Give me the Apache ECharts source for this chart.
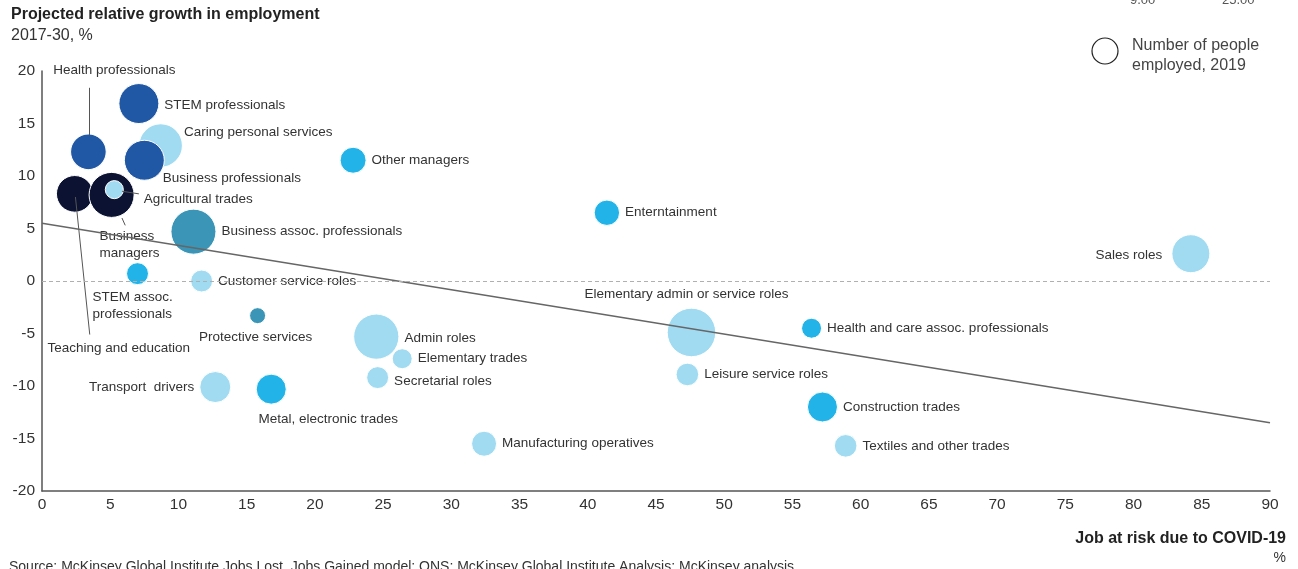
<!DOCTYPE html>
<html>
<head>
<meta charset="utf-8">
<script src="https://cdn.jsdelivr.net/npm/echarts@6/dist/echarts.min.js"></script>
<style>
  html, body { margin: 0; padding: 0; background: #fff; }
  #chart { width: 1298px; height: 569px; }
</style>
</head>
<body>
<div id="chart"></div>
<script>
// occupations, in draw order (bigger / underlying bubbles first)
const roles = [
  'Health professionals', 'STEM professionals', 'Caring personal services', 'Business professionals',
  'Other managers', 'Teaching and education', 'Business managers', 'Agricultural trades',
  'Business assoc. professionals', 'STEM assoc. professionals', 'Customer service roles',
  'Protective services', 'Admin roles', 'Elementary trades', 'Secretarial roles',
  'Transport  drivers', 'Metal, electronic trades', 'Elementary admin or service roles',
  'Health and care assoc. professionals', 'Leisure service roles', 'Construction trades',
  'Manufacturing operatives', 'Textiles and other trades', 'Enterntainment', 'Sales roles'
]
// job at risk due to COVID-19, %
const atRisk = [3.4, 7.1, 8.7, 7.5, 22.8, 2.4, 5.1, 5.3, 11.1, 7.0, 11.7, 15.8, 24.5, 26.4, 24.6,
  12.7, 16.8, 47.6, 56.4, 47.3, 57.2, 32.4, 58.9, 41.4, 84.2]
// projected relative growth in employment 2017-30, %
const growth = [12.3, 16.9, 12.9, 11.5, 11.5, 8.3, 8.2, 8.7, 4.7, 0.7, 0.0, -3.3, -5.3, -7.4, -9.2,
  -10.1, -10.3, -4.9, -4.5, -8.9, -12.0, -15.5, -15.7, 6.5, 2.6]
// number of people employed, 2019 (millions)
const employed = [1.24, 1.56, 1.84, 1.56, 0.66, 1.31, 1.98, 0.32, 1.98, 0.47, 0.47, 0.25, 2.0, 0.39, 0.47,
  0.94, 0.88, 2.3, 0.39, 0.5, 0.88, 0.61, 0.5, 0.63, 1.41]
// colour group: 0 navy, 1 dark blue, 2 teal, 3 bright blue, 4 light blue
const group = [1, 1, 4, 1, 3, 0, 0, 4, 2, 3, 4, 2, 4, 4, 4, 4, 3, 4, 3, 4, 3, 4, 4, 3, 4]

const trend = [[0, 5.5], [90, -13.5]]
// leader lines from labels to bubbles
const leaders = [
  [[3.44, 18.4], [3.44, 13.9]],
  [[2.45, 8.0], [3.5, -5.1]],
  [[5.86, 6.0], [6.1, 5.3]],
  [[5.86, 8.55], [7.1, 8.3]]
]

const xTicks = { min: 0, max: 90, interval: 5 }
const yTicks = { min: -20, max: 20, interval: 5 }

const palette = ['#0c1232', '#2058a5', '#3b95b7', '#22b3e8', '#a1dbf2']
const FONT = 'Liberation Sans, Arial, sans-serif'
const TXT = '#333'

const labelCfg = {
  'Health professionals': { position: 'top', offset: [26, -50] },
  'STEM professionals': { position: 'right', offset: [0, 2] },
  'Caring personal services': { position: 'right', offset: [-4, -13] },
  'Business professionals': { position: 'right', offset: [-7, 18] },
  'Teaching and education': { position: 'bottom', offset: [44, 122] },
  'Business managers': { position: 'bottom', offset: [-12, 5], align: 'left', text: 'Business\nmanagers' },
  'Agricultural trades': { position: 'right', offset: [15, 10] },
  'STEM assoc. professionals': { position: 'bottom', offset: [-45, -1], align: 'left', text: 'STEM assoc.\nprofessionals' },
  'Protective services': { position: 'bottom', offset: [-2, 0] },
  'Admin roles': { position: 'right', offset: [0, 2] },
  'Secretarial roles': { position: 'right', offset: [0, 4] },
  'Transport  drivers': { position: 'left', offset: [0, 0] },
  'Metal, electronic trades': { position: 'bottom', offset: [57, 1] },
  'Elementary admin or service roles': { position: 'top', offset: [-5, 0] },
  'Sales roles': { position: 'left', offset: [-4, 2] }
}

const bubbles = roles.map((name, i) => {
  const c = labelCfg[name] || { position: 'right', offset: [0, 0] }
  return {
    name,
    value: [atRisk[i], growth[i], employed[i]],
    itemStyle: { color: palette[group[i]] },
    label: {
      position: c.position,
      offset: c.offset,
      align: c.align,
      formatter: c.text || name
    }
  }
})

const chart = echarts.init(document.getElementById('chart'))
chart.setOption({
  animation: false,
  grid: { left: 42, right: 28, top: 71, bottom: 78 },
  xAxis: {
    type: 'value',
    min: xTicks.min,
    max: xTicks.max,
    interval: xTicks.interval,
    axisLine: { show: true, onZero: false, lineStyle: { color: '#555', width: 1.5 } },
    axisTick: { show: false },
    splitLine: { show: false },
    axisLabel: { color: TXT, fontSize: 15.5, fontFamily: FONT, margin: 6 }
  },
  yAxis: {
    type: 'value',
    min: yTicks.min,
    max: yTicks.max,
    interval: yTicks.interval,
    axisLine: { show: true, onZero: false, lineStyle: { color: '#555', width: 1.5 } },
    axisTick: { show: false },
    splitLine: { show: false },
    axisLabel: { color: TXT, fontSize: 15.5, fontFamily: FONT, margin: 7 }
  },
  series: [{
    type: 'line',
    z: 1,
    data: [],
    markLine: {
      silent: true,
      symbol: 'none',
      label: { show: false },
      lineStyle: { color: '#b0b0b0', type: [4, 3], width: 1 },
      data: [{ yAxis: 0 }]
    }
  }, {
    type: 'scatter',
    z: 2,
    data: bubbles,
    symbolSize: (v) => 32 * Math.sqrt(v[2]),
    itemStyle: { borderColor: '#fff', borderWidth: 1, opacity: 1 },
    label: {
      show: true,
      color: TXT,
      fontSize: 13.5,
      fontFamily: FONT,
      lineHeight: 17,
      distance: 5
    },
    emphasis: { disabled: true }
  }, {
    type: 'line',
    z: 3,
    data: trend,
    symbol: 'none',
    lineStyle: { color: '#666', width: 1.3 },
    silent: true
  }, {
    type: 'lines',
    coordinateSystem: 'cartesian2d',
    z: 3,
    silent: true,
    lineStyle: { color: '#555', width: 1, opacity: 1 },
    data: leaders.map(c => ({ coords: c }))
  }],
  graphic: [
    { type: 'text', left: 11, top: 7, style: { text: 'Projected relative growth in employment', font: 'bold 16px ' + FONT, fill: '#222' } },
    { type: 'text', left: 11, top: 28, style: { text: '2017-30, %', font: '16px ' + FONT, fill: TXT } },
    { type: 'text', left: 1130, top: -6, style: { text: '9.00', font: '13px ' + FONT, fill: '#555' } },
    { type: 'text', left: 1222, top: -6, style: { text: '25.00', font: '13px ' + FONT, fill: '#555' } },
    { type: 'circle', shape: { cx: 1105, cy: 51, r: 13 }, style: { fill: '#fff', stroke: '#222', lineWidth: 1.2 } },
    { type: 'text', left: 1132, top: 36, style: { text: 'Number of people\nemployed, 2019', font: '16px ' + FONT, lineHeight: 20, fill: '#444' } },
    { type: 'text', right: 12, top: 531, style: { text: 'Job at risk due to COVID-19', font: 'bold 16px ' + FONT, fill: '#222' } },
    { type: 'text', right: 12, top: 551, style: { text: '%', font: '14px ' + FONT, fill: TXT } },
    { type: 'text', left: 9, top: 560, style: { text: 'Source: McKinsey Global Institute Jobs Lost, Jobs Gained model; ONS; McKinsey Global Institute Analysis; McKinsey analysis', font: '14px ' + FONT, fill: TXT } }
  ]
})
</script>
</body>
</html>
